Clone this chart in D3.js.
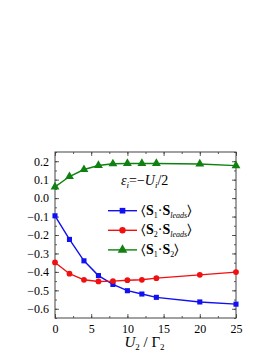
<!DOCTYPE html>
<html>
<head>
<meta charset="utf-8">
<script src="https://cdn.jsdelivr.net/npm/d3@7"></script>
<style>
  body { margin: 0; background: #fff; }
</style>
</head>
<body>
<script>
// data
const xs = [0, 2, 4, 6, 8, 10, 12, 14, 20, 25];
const s1Leads = [-0.096, -0.224, -0.34, -0.42, -0.468, -0.502, -0.52, -0.538, -0.563, -0.575];
const s2Leads = [-0.349, -0.41, -0.443, -0.452, -0.45, -0.445, -0.443, -0.434, -0.416, -0.401];
const s1s2 = [0.061, 0.117, 0.155, 0.177, 0.186, 0.188, 0.188, 0.188, 0.185, 0.176];
const xTicks = [0, 5, 10, 15, 20, 25];
const yTicks = [0.2, 0.1, 0.0, -0.1, -0.2, -0.3, -0.4, -0.5, -0.6];

var SERIF = "'Liberation Serif', 'Times New Roman', Times, serif";

var margin = {top: 152, right: 41, bottom: 40, left: 55},
    width = 277 - margin.left - margin.right,
    height = 318 - margin.top;

var svg = d3.select("body").append("svg")
    .attr("width", 277)
    .attr("height", 358)
    .style("font-family", SERIF)
  .append("g")
    .attr("transform", "translate(" + margin.left + "," + margin.top + ")");

var x = d3.scaleLinear().domain([0, 25]).range([0, width]);
var y = d3.scaleLinear().domain([-0.65, 0.25]).range([height, 0]);

var fmtY = function(d) { return d3.format(".1f")(d).replace("-", "\u2212"); };

// minor ticks
var xMinor = d3.range(0, 25.01, 2.5);
var yMinor = d3.range(-0.65, 0.26, 0.05);

function axisStyle(g) {
    g.attr("font-family", SERIF);
    g.select(".domain").remove();
    g.selectAll("line").attr("stroke", "#333").attr("stroke-width", 0.8);
    g.selectAll("text").style("font-size", "12px").style("font-family", SERIF).attr("fill", "#000");
}

svg.append("g").attr("transform", "translate(0," + height + ")")
    .call(d3.axisBottom(x).tickValues(xTicks).tickSizeInner(-4).tickSizeOuter(0).tickPadding(6))
    .call(axisStyle);
svg.append("g").attr("transform", "translate(0," + height + ")")
    .call(d3.axisBottom(x).tickValues(xMinor).tickSize(-2).tickFormat(""))
    .call(axisStyle);
svg.append("g")
    .call(d3.axisTop(x).tickValues(xTicks).tickSize(-4).tickFormat(""))
    .call(axisStyle);
svg.append("g")
    .call(d3.axisTop(x).tickValues(xMinor).tickSize(-2).tickFormat(""))
    .call(axisStyle);

svg.append("g")
    .call(d3.axisLeft(y).tickValues(yTicks).tickSizeInner(-4).tickSizeOuter(0).tickPadding(6).tickFormat(fmtY))
    .call(axisStyle);
svg.append("g")
    .call(d3.axisLeft(y).tickValues(yMinor).tickSize(-2).tickFormat(""))
    .call(axisStyle);
svg.append("g").attr("transform", "translate(" + width + ",0)")
    .call(d3.axisRight(y).tickValues(yTicks).tickSize(-4).tickFormat(""))
    .call(axisStyle);
svg.append("g").attr("transform", "translate(" + width + ",0)")
    .call(d3.axisRight(y).tickValues(yMinor).tickSize(-2).tickFormat(""))
    .call(axisStyle);

svg.append("rect")
    .attr("width", width).attr("height", height)
    .attr("fill", "none").attr("stroke", "#444").attr("stroke-width", 1);

var series = [
    {name: "s1Leads", vals: s1Leads, color: "#1010f0", shape: d3.symbolSquare, size: 26},
    {name: "s2Leads", vals: s2Leads, color: "#f01010", shape: d3.symbolCircle, size: 26},
    {name: "s1s2", vals: s1s2, color: "#108010", shape: d3.symbolTriangle, size: 34}
];

var line = d3.line()
    .x(function(d) { return x(d[0]); })
    .y(function(d) { return y(d[1]); });

series.forEach(function(s) {
    var pts = xs.map(function(v, i) { return [v, s.vals[i]]; });
    svg.append("path")
        .datum(pts)
        .attr("fill", "none")
        .attr("stroke", s.color)
        .attr("stroke-width", 1.4)
        .attr("d", line);
    svg.selectAll(null)
        .data(pts)
        .enter().append("path")
        .attr("transform", function(d) { return "translate(" + x(d[0]) + "," + y(d[1]) + ")"; })
        .attr("d", d3.symbol().type(s.shape).size(s.size))
        .attr("fill", s.color);
});

// epsilon label
var eps = svg.append("text")
    .attr("x", 66).attr("y", 33)
    .style("font-size", "14px");
eps.append("tspan").style("font-style", "italic").text("\u03b5");
eps.append("tspan").style("font-style", "italic").style("font-size", "9px").attr("dy", 3).text("i");
eps.append("tspan").attr("dy", -3).text("=\u2212");
eps.append("tspan").style("font-style", "italic").text("U");
eps.append("tspan").style("font-style", "italic").style("font-size", "9px").attr("dy", 3).text("i");
eps.append("tspan").attr("dy", -3).text("/2");

// legend
var labels = [
    ["1", "leads"],
    ["2", "leads"],
    ["1", "2"]
];
series.forEach(function(s, i) {
    var ly = 58.7 + i * 19.6;
    var g = svg.append("g").attr("transform", "translate(53," + ly + ")");
    g.append("line").attr("x1", 0).attr("x2", 29)
        .attr("stroke", s.color).attr("stroke-width", 1.4);
    g.append("path").attr("transform", "translate(14.5,0)")
        .attr("d", d3.symbol().type(s.shape).size(s.size + 6))
        .attr("fill", s.color);
    var t = g.append("text").attr("x", 33).attr("y", 4).style("font-size", "14px");
    t.append("tspan").text("\u2329");
    t.append("tspan").style("font-weight", "bold").text("S");
    t.append("tspan").style("font-size", "8px").attr("dy", 3).text(labels[i][0]);
    t.append("tspan").attr("dy", -3).text("\u00b7");
    t.append("tspan").style("font-weight", "bold").text("S");
    if (labels[i][1] === "leads") {
        t.append("tspan").style("font-size", "8px").style("font-style", "italic").attr("dy", 3).text("leads");
    } else {
        t.append("tspan").style("font-size", "8px").attr("dy", 3).text("2");
    }
    t.append("tspan").attr("dy", -3).text("\u232a");
});

// x axis title
var xt = svg.append("text")
    .attr("x", width / 2 - 1).attr("y", height + 29)
    .attr("text-anchor", "middle")
    .style("font-size", "15px");
xt.append("tspan").style("font-style", "italic").text("U");
xt.append("tspan").style("font-size", "9px").attr("dy", 3).text("2");
xt.append("tspan").attr("dy", -3).text(" / \u0393");
xt.append("tspan").style("font-size", "9px").attr("dy", 3).text("2");
</script>
</body>
</html>
